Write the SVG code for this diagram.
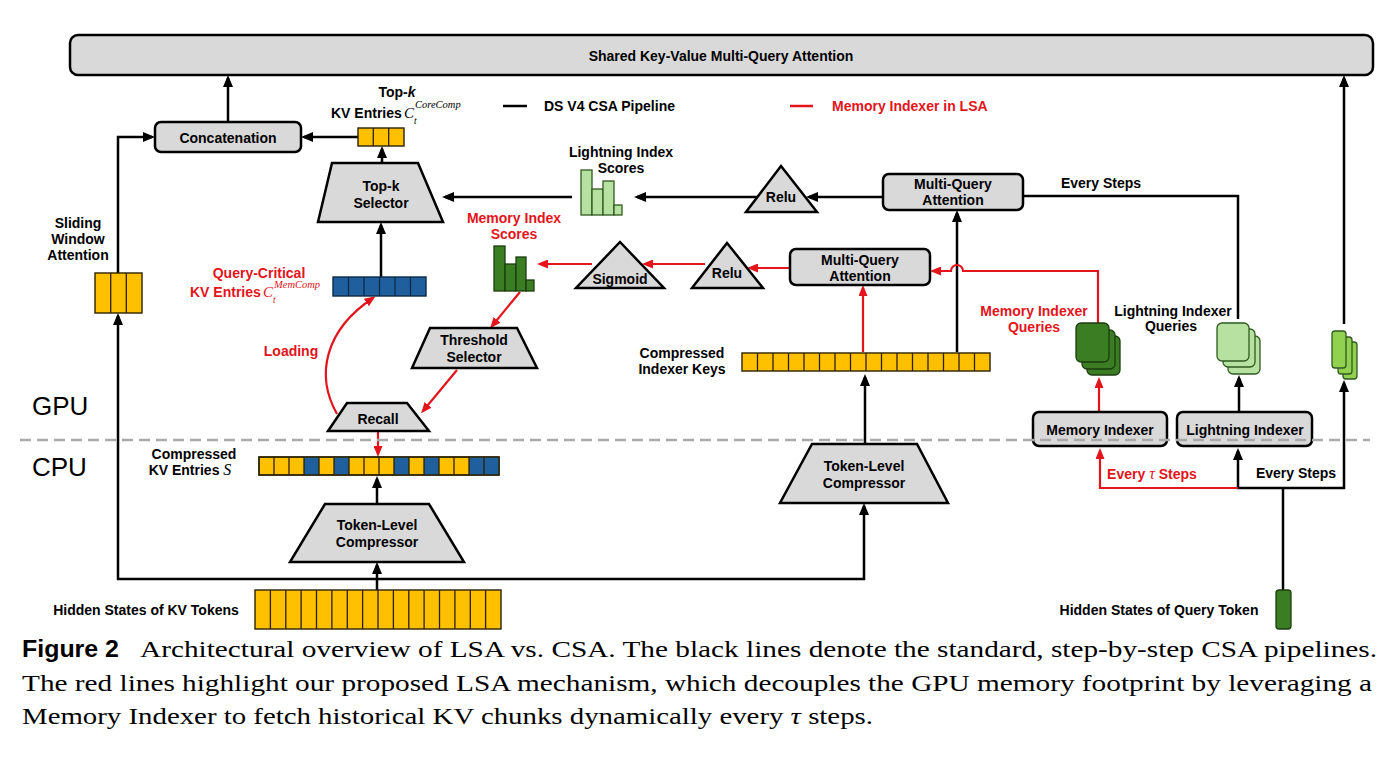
<svg xmlns="http://www.w3.org/2000/svg" width="1400" height="757" viewBox="0 0 1400 757">
<style>
.lbl{font-family:"Liberation Sans",Arial,sans-serif;font-weight:bold;font-size:14px;text-anchor:middle;fill:#000}
.st{text-anchor:start}
.red{fill:#e3141b}
.mi{font-family:"Liberation Serif","Times New Roman",serif;font-style:italic;font-weight:normal}
.box{fill:#d9d9d9;stroke:#000;stroke-width:2.5}
.ln{fill:none;stroke:#000;stroke-width:2.5}
.rl{fill:none;stroke:#e3141b;stroke-width:2.2}
.cy{fill:#ffc000;stroke:#2b2100;stroke-width:1.4}
.cb{fill:#1f5f9e;stroke:#0d2a45;stroke-width:1.4}
.dv{fill:none;stroke:#2b2100;stroke-width:1.3}
.gd{fill:#3a7d22;stroke:#1c3d10;stroke-width:1.3}
.gl{fill:#b7e1a1;stroke:#2f5a1e;stroke-width:1.3}
.gm{fill:#92d050;stroke:#2f5a1e;stroke-width:1.3}
.big{font-family:"Liberation Sans",Arial,sans-serif;font-size:26px;fill:#000}
.cap{font-family:"Liberation Serif","Times New Roman",serif;font-size:24px;fill:#000}
</style>
<defs>
<marker id="ah" markerUnits="userSpaceOnUse" markerWidth="12" markerHeight="10" viewBox="0 0 12 10" refX="9" refY="5" orient="auto-start-reverse"><path d="M0,0L12,5L0,10z" fill="#000"/></marker>
<marker id="ahr" markerUnits="userSpaceOnUse" markerWidth="11" markerHeight="9" viewBox="0 0 11 9" refX="8" refY="4.5" orient="auto-start-reverse"><path d="M0,0L11,4.5L0,9z" fill="#e3141b"/></marker>
</defs>
<rect width="1400" height="757" fill="#fff"/>

<g id="regions">
<text class="big" x="32" y="415">GPU</text>
<text class="big" x="32" y="476">CPU</text>
</g>

<g id="connectors">
<path class="ln" d="M228,122L228,78" marker-end="url(#ah)"/>
<path class="ln" d="M358,137L304,137" marker-end="url(#ah)"/>
<path class="ln" d="M382,163L382,149" marker-end="url(#ah)"/>
<path class="ln" d="M381,277L381,225" marker-end="url(#ah)"/>
<path class="ln" d="M572,197L445,197" marker-end="url(#ah)"/>
<path class="ln" d="M118,273L118,137L152,137" marker-end="url(#ah)"/>
<path class="ln" d="M118,316L118,579L864,579L864,506" marker-start="url(#ah)" marker-end="url(#ah)"/>
<path class="ln" d="M377,590L377,565" marker-end="url(#ah)"/>
<path class="ln" d="M377,504L377,479" marker-end="url(#ah)"/>
<path class="ln" d="M865,444L865,377" marker-end="url(#ah)"/>
<path class="ln" d="M957,352L957,213" marker-end="url(#ah)"/>
<path class="ln" d="M883,197L809,197" marker-end="url(#ah)"/>
<path class="ln" d="M757,197L637,197" marker-end="url(#ah)"/>
<path class="ln" d="M1023,196L1238,196L1238,319"/>
<path class="ln" d="M1239,412L1239,378" marker-end="url(#ah)"/>
<path class="ln" d="M1344,324L1344,78" marker-end="url(#ah)"/>
<path class="ln" d="M1238,451L1238,488L1344,488L1344,383" marker-start="url(#ah)" marker-end="url(#ah)"/>
<path class="ln" d="M1283,590L1283,488"/>
<path class="rl" d="M378,431L378,454" marker-end="url(#ahr)"/>
<path class="rl" d="M337,414C315,375 325,330 373,298" marker-end="url(#ahr)"/>
<path class="rl" d="M520,292L492,326" marker-end="url(#ahr)"/>
<path class="rl" d="M457,370L423,411" marker-end="url(#ahr)"/>
<path class="rl" d="M592,264L540,264" marker-end="url(#ahr)"/>
<path class="rl" d="M705,264L645,264" marker-end="url(#ahr)"/>
<path class="rl" d="M790,268L750,268" marker-end="url(#ahr)"/>
<path class="rl" d="M863,352L863,288" marker-end="url(#ahr)"/>
<path class="rl" d="M1098,323L1098,271L963,271A6,6 0 0 0 951,271L933,271" marker-end="url(#ahr)"/>
<path class="rl" d="M1099,412L1099,380" marker-end="url(#ahr)"/>
<path class="rl" d="M1238,488L1100,488L1100,451" marker-end="url(#ahr)"/>
</g>

<g id="shared-mqa">
<rect class="box" x="70" y="35" width="1303" height="40" rx="8"/>
<text class="lbl" x="721" y="61" font-size="13">Shared Key-Value Multi-Query Attention</text>
</g>

<g id="legend">
<path d="M503,106L527,106" stroke="#000" stroke-width="2.5"/>
<text class="lbl st" x="544" y="111">DS V4 CSA Pipeline</text>
<path d="M790,106L813,106" stroke="#e3141b" stroke-width="2.5"/>
<text class="lbl st red" x="832" y="111">Memory Indexer in LSA</text>
</g>

<g id="concatenation">
<rect class="box" x="155" y="122" width="146" height="30" rx="6"/>
<text class="lbl" x="228" y="143">Concatenation</text>
</g>

<g id="topk-entries">
<rect class="cy" x="358" y="128" width="46" height="18"/>
<path class="dv" d="M373.3,128v18M388.7,128v18"/>
<text class="lbl" x="397" y="97">Top-<tspan font-style="italic">k</tspan></text>
<text class="lbl st" x="331" y="118" font-size="13.5">KV Entries</text>
<text class="mi" x="404" y="118" font-size="15">C</text>
<text class="mi" x="415" y="108" font-size="10.5">CoreComp</text>
<text class="mi" x="414" y="124" font-size="9.5">t</text>
</g>

<g id="topk-selector">
<polygon class="box" points="332,163 418,163 443,222 318,222"/>
<text class="lbl" x="381" y="191">Top-k</text>
<text class="lbl" x="381" y="208">Selector</text>
</g>

<g id="sliding-window">
<rect class="cy" x="95" y="273" width="47" height="40"/>
<path class="dv" d="M110.7,273v40M126.3,273v40"/>
<text class="lbl" x="78" y="228">Sliding</text>
<text class="lbl" x="78" y="244">Window</text>
<text class="lbl" x="78" y="260">Attention</text>
</g>

<g id="query-critical">
<rect class="cb" x="333" y="277" width="93" height="19"/>
<path d="M348.5,277v19M364,277v19M379.5,277v19M395,277v19M410.5,277v19" stroke="#0d2a45" stroke-width="1.3" fill="none"/>
<text class="lbl red" x="259" y="278">Query-Critical</text>
<text class="lbl st red" x="190" y="297" font-size="13.5">KV Entries</text>
<text class="mi red" x="263" y="297" font-size="15">C</text>
<text class="mi red" x="274" y="288" font-size="10.5">MemComp</text>
<text class="mi red" x="273" y="303" font-size="9.5">t</text>
<text class="lbl red" x="291" y="356">Loading</text>
</g>

<g id="lightning-scores">
<rect class="gl" x="581" y="170" width="11" height="45"/>
<rect class="gl" x="592" y="189" width="11" height="26"/>
<rect class="gl" x="603" y="181" width="11" height="34"/>
<rect class="gl" x="614" y="205" width="8" height="10"/>
<text class="lbl" x="621" y="157">Lightning Index</text>
<text class="lbl" x="621" y="173">Scores</text>
</g>

<g id="memory-scores">
<rect class="gd" x="494" y="246" width="11" height="45"/>
<rect class="gd" x="505" y="264" width="11" height="27"/>
<rect class="gd" x="516" y="257" width="10" height="34"/>
<rect class="gd" x="526" y="280" width="8" height="11"/>
<text class="lbl red" x="514" y="223">Memory Index</text>
<text class="lbl red" x="514" y="239">Scores</text>
</g>

<g id="relu-upper">
<polygon class="box" points="781,166 817,212 746,212"/>
<text class="lbl" x="781" y="202">Relu</text>
</g>

<g id="mqa-upper">
<rect class="box" x="883" y="174" width="140" height="36" rx="6"/>
<text class="lbl" x="953" y="189">Multi-Query</text>
<text class="lbl" x="953" y="205">Attention</text>
</g>
<text class="lbl" x="1101" y="188">Every Steps</text>

<g id="sigmoid">
<polygon class="box" points="620,242 664,288 576,288"/>
<text class="lbl" x="620" y="284">Sigmoid</text>
</g>

<g id="relu-lower">
<polygon class="box" points="727,243 763,288 692,288"/>
<text class="lbl" x="727" y="278">Relu</text>
</g>

<g id="mqa-lower">
<rect class="box" x="790" y="249" width="140" height="36" rx="6"/>
<text class="lbl" x="860" y="265">Multi-Query</text>
<text class="lbl" x="860" y="281">Attention</text>
</g>

<g id="threshold-selector">
<polygon class="box" points="430,328 517,328 537,368 412,368"/>
<text class="lbl" x="474" y="345">Threshold</text>
<text class="lbl" x="474" y="362">Selector</text>
</g>

<g id="recall">
<polygon class="box" points="347,403 407,403 429,431 328,431"/>
<text class="lbl" x="378" y="424">Recall</text>
</g>

<g id="compressed-kv">
<rect class="cy" x="259" y="457" width="240" height="18"/>
<rect x="304" y="457" width="15" height="18" fill="#1f5f9e"/>
<rect x="334" y="457" width="15" height="18" fill="#1f5f9e"/>
<rect x="394" y="457" width="15" height="18" fill="#1f5f9e"/>
<rect x="424" y="457" width="15" height="18" fill="#1f5f9e"/>
<rect x="469" y="457" width="30" height="18" fill="#1f5f9e"/>
<path class="dv" d="M274,457v18M289,457v18M304,457v18M319,457v18M334,457v18M349,457v18M364,457v18M379,457v18M394,457v18M409,457v18M424,457v18M439,457v18M454,457v18M469,457v18M484,457v18"/>
<rect x="259" y="457" width="240" height="18" fill="none" stroke="#2b2100" stroke-width="1.4"/>
<text class="lbl" x="194" y="459">Compressed</text>
<text class="lbl" x="190" y="475">KV Entries <tspan class="mi" font-size="16">S</tspan></text>
</g>

<g id="compressor-left">
<polygon class="box" points="325,504 429,504 464,562 290,562"/>
<text class="lbl" x="377" y="530">Token-Level</text>
<text class="lbl" x="377" y="547">Compressor</text>
</g>

<g id="kv-tokens">
<rect class="cy" x="255" y="590" width="246" height="39"/>
<path class="dv" d="M270.4,590v39M285.8,590v39M301.1,590v39M316.5,590v39M331.9,590v39M347.3,590v39M362.6,590v39M378,590v39M393.4,590v39M408.8,590v39M424.1,590v39M439.5,590v39M454.9,590v39M470.3,590v39M485.6,590v39"/>
<text class="lbl" x="146" y="615">Hidden States of KV Tokens</text>
</g>

<g id="indexer-keys">
<rect class="cy" x="742" y="353" width="248" height="18"/>
<path class="dv" d="M757.5,353v18M773,353v18M788.5,353v18M804,353v18M819.5,353v18M835,353v18M850.5,353v18M866,353v18M881.5,353v18M897,353v18M912.5,353v18M928,353v18M943.5,353v18M959,353v18M974.5,353v18"/>
<text class="lbl" x="682" y="358">Compressed</text>
<text class="lbl" x="682" y="374">Indexer Keys</text>
</g>

<g id="compressor-right">
<polygon class="box" points="812,444 917,444 948,503 780,503"/>
<text class="lbl" x="864" y="471">Token-Level</text>
<text class="lbl" x="864" y="488">Compressor</text>
</g>

<g id="memory-queries">
<rect class="gd" x="1087" y="336" width="33" height="39" rx="5"/>
<rect class="gd" x="1082" y="330" width="33" height="39" rx="5"/>
<rect class="gd" x="1076" y="323" width="33" height="39" rx="5"/>
<text class="lbl red" x="1034" y="316">Memory Indexer</text>
<text class="lbl red" x="1034" y="332">Queries</text>
</g>

<g id="lightning-queries">
<rect class="gl" x="1228" y="336" width="32" height="38" rx="5"/>
<rect class="gl" x="1223" y="329" width="32" height="38" rx="5"/>
<rect class="gl" x="1217" y="323" width="32" height="38" rx="5"/>
<text class="lbl" x="1173" y="316">Lightning Indexer</text>
<text class="lbl" x="1171" y="331">Queries</text>
</g>

<g id="query-stack">
<rect class="gm" x="1343" y="342" width="14" height="37" rx="3"/>
<rect class="gm" x="1338" y="337" width="14" height="37" rx="3"/>
<rect class="gm" x="1332" y="331" width="14" height="37" rx="3"/>
</g>

<g id="memory-indexer">
<rect class="box" x="1033" y="412" width="134" height="34" rx="6"/>
<text class="lbl" x="1100" y="435">Memory Indexer</text>
</g>

<g id="lightning-indexer">
<rect class="box" x="1177" y="412" width="135" height="34" rx="6"/>
<text class="lbl" x="1245" y="435">Lightning Indexer</text>
</g>

<path id="gpu-cpu-divider" d="M20,440L1370,440" stroke="#aaa" stroke-width="2.5" stroke-dasharray="11 6" fill="none"/>

<g id="step-labels">
<text class="lbl red" x="1152" y="479">Every <tspan class="mi" font-size="16">τ</tspan> Steps</text>
<text class="lbl" x="1296" y="478">Every Steps</text>
</g>

<g id="query-token">
<rect class="gd" x="1276" y="590" width="15" height="39" rx="3"/>
<text class="lbl" x="1159" y="615">Hidden States of Query Token</text>
</g>

<g id="caption">
<text x="22" y="657" font-family="Liberation Sans,Arial,sans-serif" font-weight="bold" font-size="24" textLength="97" lengthAdjust="spacingAndGlyphs">Figure 2</text>
<text class="cap" x="140" y="657" textLength="1237" lengthAdjust="spacingAndGlyphs">Architectural overview of LSA vs. CSA. The black lines denote the standard, step-by-step CSA pipelines.</text>
<text class="cap" x="22" y="691" textLength="1350" lengthAdjust="spacingAndGlyphs">The red lines highlight our proposed LSA mechanism, which decouples the GPU memory footprint by leveraging a</text>
<text class="cap" x="22" y="724" textLength="851" lengthAdjust="spacingAndGlyphs">Memory Indexer to fetch historical KV chunks dynamically every <tspan font-style="italic">τ</tspan> steps.</text>
</g>
</svg>
